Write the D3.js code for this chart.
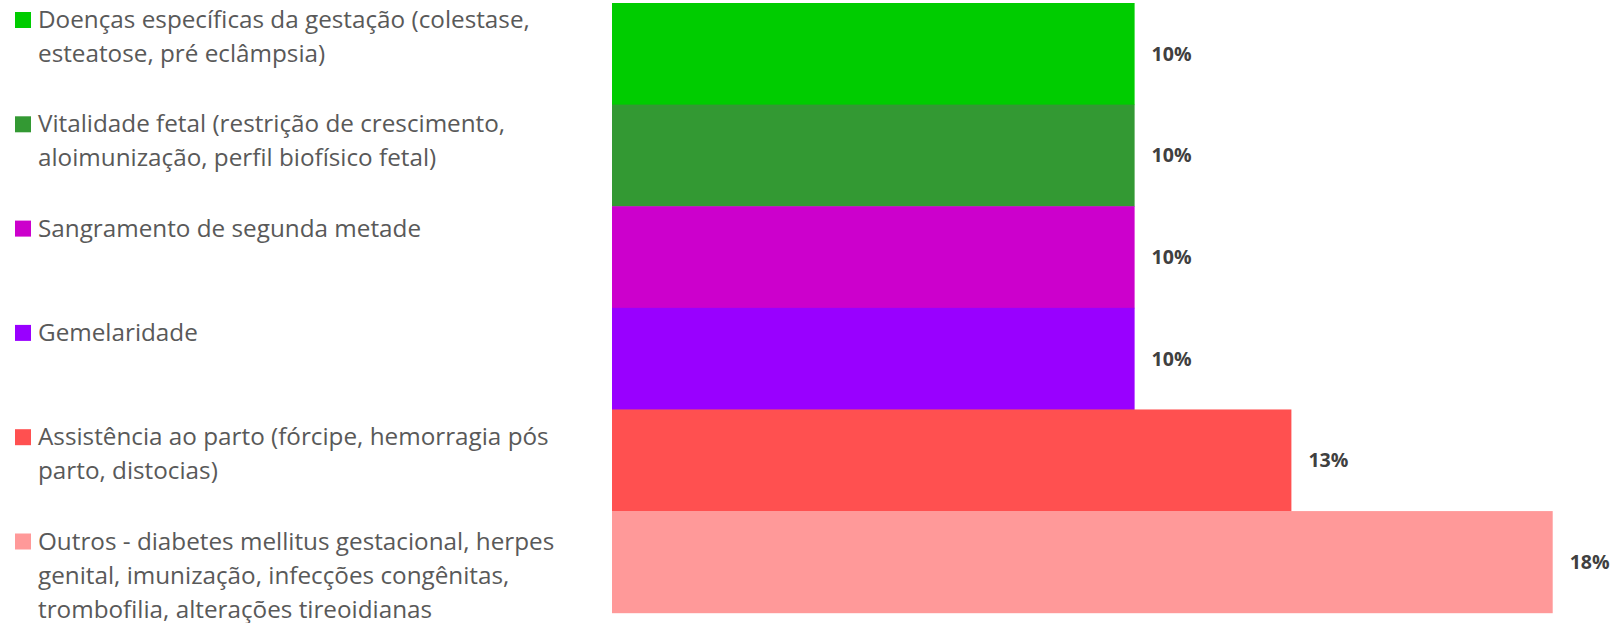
<!DOCTYPE html>
<html><head><meta charset="utf-8">
<script src="https://cdn.jsdelivr.net/npm/d3@7"></script>
<style>html,body{margin:0;padding:0;background:#fff;overflow:hidden}</style>
</head><body>
<svg id="chart" width="1621" height="623"></svg>
<script>
const categories = [
  "Doenças específicas da gestação (colestase,\nesteatose, pré eclâmpsia)",
  "Vitalidade fetal (restrição de crescimento,\naloimunização, perfil biofísico fetal)",
  "Sangramento de segunda metade",
  "Gemelaridade",
  "Assistência ao parto (fórcipe, hemorragia pós\nparto, distocias)",
  "Outros - diabetes mellitus gestacional, herpes\ngenital, imunização, infecções congênitas,\ntrombofilia, alterações tireoidianas"
];
const values = [10, 10, 10, 10, 13, 18];
const valueLabels = ["10%", "10%", "10%", "10%", "13%", "18%"];
const colors = ["#00CC00", "#339933", "#CC00CC", "#9900FF", "#FF5050", "#FF9999"];

const svg = d3.select("#chart");
const font = "'Open Sans', 'Noto Sans', sans-serif";

// fit a font size so that a sample string reaches a target width
function fitSize(sample, target, weight) {
  const t = svg.append("text").attr("font-family", font).attr("font-weight", weight)
    .attr("font-size", 100).text(sample);
  const w = t.node().getComputedTextLength();
  t.remove();
  return 100 * target / w;
}

const x = d3.scaleLinear().domain([0, 18]).range([612, 1552.7]);
const y = d3.scaleBand().domain(d3.range(categories.length)).range([3, 612.7]).padding(0);

svg.append("g").selectAll("rect").data(values).join("rect")
  .attr("x", x(0))
  .attr("y", (d, i) => y(i))
  .attr("width", d => x(d) - x(0))
  .attr("height", y.bandwidth() + 0.5)
  .attr("fill", (d, i) => colors[i]);

const labelSize = fitSize("10%", 40, "bold");
svg.append("g").selectAll("text").data(values).join("text")
  .attr("x", d => x(d) + 17)
  .attr("y", (d, i) => y(i) + y.bandwidth() / 2)
  .attr("dy", "0.36em")
  .attr("font-family", font)
  .attr("font-weight", "bold")
  .attr("font-size", labelSize)
  .attr("fill", "#404040")
  .text((d, i) => valueLabels[i]);

// legend
const legendSize = fitSize("Doenças específicas da gestação (colestase,", 492, "normal");
const legendStep = 104.3;
const lineH = 34;
const leg = svg.append("g");
categories.forEach((c, i) => {
  const top = 12 + i * legendStep;
  const g = leg.append("g");
  g.append("rect").attr("x", 15).attr("y", top).attr("width", 16).attr("height", 16).attr("fill", colors[i]);
  const t = g.append("text")
    .attr("font-family", font)
    .attr("font-size", legendSize)
    .attr("fill", "#595959");
  c.split("\n").forEach((line, j) => {
    t.append("tspan").attr("x", 38).attr("y", top + 16 + j * lineH).text(line);
  });
});
</script>
</body></html>
